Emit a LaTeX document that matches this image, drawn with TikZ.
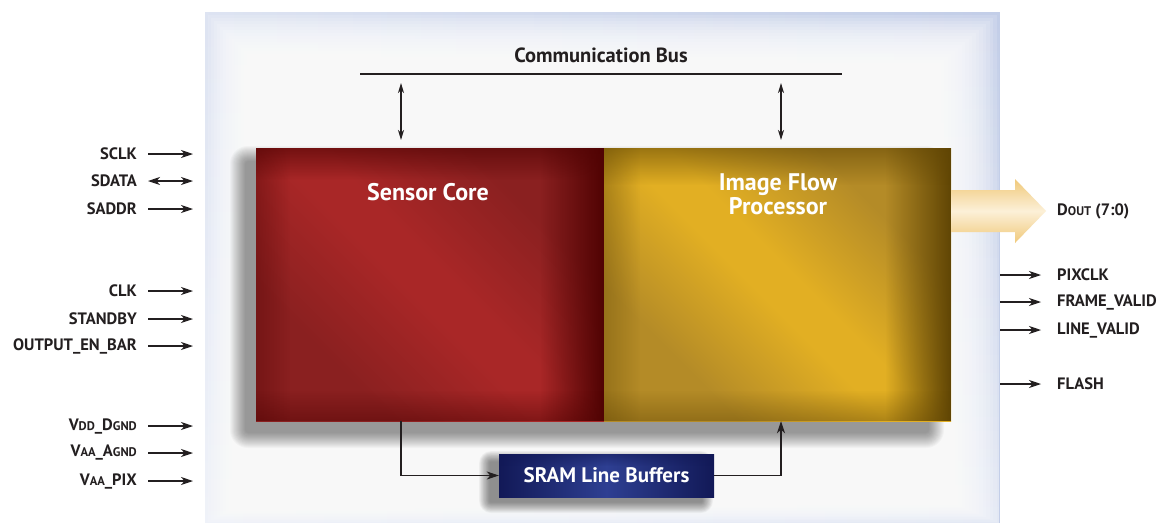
\documentclass[tikz,border=0pt]{standalone}
\usepackage{fontspec}
\setmainfont{PT Sans}
\usetikzlibrary{arrows.meta,fadings}
\definecolor{txt}{HTML}{231F20}
\definecolor{panelblue}{HTML}{C3CEE8}
\definecolor{redbase}{HTML}{8A2020}
\definecolor{redhi}{HTML}{A92727}
\definecolor{reddark}{HTML}{500303}
\definecolor{goldbase}{HTML}{B48B27}
\definecolor{goldhi}{HTML}{E2AF23}
\definecolor{golddark}{HTML}{604504}
\definecolor{sramc}{HTML}{2E3F92}
\definecolor{sramd}{HTML}{121957}
\definecolor{doutc}{HTML}{F0C97A}
\definecolor{doutl}{HTML}{FCF0D8}
\pgfdeclarehorizontalshading{redband}{100bp}{color(0bp)=(redbase); color(30bp)=(redbase); color(47bp)=(redhi); color(53bp)=(redhi); color(70bp)=(redbase); color(100bp)=(redbase)}
\pgfdeclarehorizontalshading{goldband}{100bp}{color(0bp)=(goldbase); color(30bp)=(goldbase); color(47bp)=(goldhi); color(53bp)=(goldhi); color(70bp)=(goldbase); color(100bp)=(goldbase)}
\tikzfading[name=fadetoright, left color=transparent!100, right color=transparent!0]
\tikzfading[name=fadetoleft, left color=transparent!0, right color=transparent!100]
\tikzfading[name=fadetotop, bottom color=transparent!100, top color=transparent!0]
\tikzfading[name=fadetobottom, top color=transparent!100, bottom color=transparent!0]
\newcommand\smc[1]{{\fontsize{12.5}{13}\selectfont #1}}
\tikzset{
  sig/.style={font=\fontsize{16.5}{18}\selectfont\bfseries, text=txt, inner sep=0pt},
  tipA/.tip={Stealth[length=12pt,width=8pt,inset=3.5pt]},
  tipB/.tip={Stealth[length=10pt,width=6pt,inset=3pt]},
  arr/.style={draw=txt, line width=1.1pt, -tipA},
  darr/.style={draw=txt, line width=1.1pt, tipA-tipA},
  busarr/.style={draw=txt, line width=1.1pt, tipB-tipB},
  blocktxt/.style={font=\fontsize{24}{24}\selectfont\bfseries, text=white, align=center, inner sep=0pt},
  blk/.style={draw=none, inner sep=0pt, minimum width=#1},
}
\begin{document}
\begin{tikzpicture}[x=1pt,y=-1pt]
\useasboundingbox (0,0) rectangle (1158,523);
\fill[white] (0,0) rectangle (1158,523);
% panel
\fill[panelblue] (205,12) rectangle (1000,523);
\fill[white, opacity=0.45, path fading=fadetoleft] (205,12) rectangle (1000,523);
\fill[white, opacity=0.55, path fading=fadetobottom] (205,12) rectangle (1000,523);
\foreach \i in {1,...,22} {
  \fill[white, opacity=0.14] (205+3*\i,12+3*\i) rectangle (1000-3.5*\i,523-1.5*\i);
}
% shadows
\foreach \i in {0,...,15} {
  \fill[black, opacity=0.028, rounded corners=18-\i]
    (246-16+\i,162-16+\i) rectangle (928+16-\i,432+16-\i);
  \fill[black, opacity=0.03, rounded corners=12-0.7*\i]
    (490-11+0.7*\i,462-11+0.7*\i) rectangle (702+11-0.7*\i,502+11-0.7*\i);
}
% sensor core
\shade[shading=redband, shading angle=45] (256,148) rectangle (604,421);
\fill[reddark, path fading=fadetoright] (540,148) rectangle (604,421);
\fill[reddark, path fading=fadetotop, opacity=0.6] (256,148) rectangle (604,180);
\fill[reddark, path fading=fadetoleft, opacity=0.35] (256,148) rectangle (290,421);
\fill[reddark, path fading=fadetobottom, opacity=0.45] (256,390) rectangle (604,421);
% image flow processor
\shade[shading=goldband, shading angle=45] (604,148) rectangle (951,421);
\fill[golddark, path fading=fadetoright] (885,148) rectangle (951,421);
\fill[golddark, path fading=fadetotop, opacity=0.55] (604,148) rectangle (951,185);
\fill[golddark, path fading=fadetoleft, opacity=0.35] (604,148) rectangle (640,421);
\fill[golddark, path fading=fadetobottom, opacity=0.4] (604,390) rectangle (951,421);
\node[blk=348pt, minimum height=273pt] (sc) at (430,284.5) {};
\node[blk=347pt, minimum height=273pt] (ifp) at (777.5,284.5) {};
\node[blocktxt] (sctxt) at (428,192) {Sensor Core};
\node[blocktxt] (ifptxt) at (778,194) {Image Flow\\Processor};
% SRAM
\shade[left color=sramd, right color=sramd, middle color=sramc] (499,454) rectangle (714,497);
\fill[sramd, path fading=fadetotop, opacity=0.5] (499,454) rectangle (714,466);
\node[blk=215pt, minimum height=43pt, font=\fontsize{21}{22}\selectfont\bfseries, text=white] (sram) at (606.5,475.5) {SRAM Line Buffers};
\draw[arr] (sc.south -| 401,0) |- (sram.west);
\draw[arr] (sram.east) -| (ifp.south -| 781,0);
% communication bus
\node[font=\fontsize{20.5}{22}\selectfont\bfseries, text=txt, inner sep=0pt] (bus) at (601,55) {Communication Bus};
\coordinate (busL) at (360,74);
\coordinate (busR) at (842,74);
\draw[txt, line width=1.2pt] (busL) -- (busR);
\coordinate (b1t) at (401,83);
\coordinate (b1b) at (401,140);
\coordinate (b2t) at (781,83);
\coordinate (b2b) at (781,140);
\draw[busarr] (b1t) -- (b1b);
\draw[busarr] (b2t) -- (b2b);
% Dout arrow
\shade[top color=doutc, bottom color=doutc, middle color=doutl]
  (951,190) -- (1015,190) -- (1015,179) -- (1046,211) -- (1015,243) -- (1015,232) -- (951,232) -- cycle;
\node[sig, anchor=west] (dout) at (1057,211) {D\smc{OUT} (7:0)};
% left inputs
\foreach \nm/\lab/\y in {sclk/SCLK/154, saddr/SADDR/209, clk/CLK/291, stby/STANDBY/319, oen/OUTPUT\_EN\_BAR/346,
  vdd/V\smc{DD}\_D\smc{GND}/426, vaa/V\smc{AA}\_A\smc{GND}/453, vpix/V\smc{AA}\_PIX/481} {
  \node[sig, anchor=east] (\nm) at (137,\y) {\lab};
  \coordinate (\nm e) at (193,\y);
  \coordinate (\nm s) at (148,\y);
  \draw[arr] (\nm s) -- (\nm e);
}
\node[sig, anchor=east] (sdata) at (137,181) {SDATA};
\coordinate (sdatae) at (193,181);
\coordinate (sdatas) at (148,181);
\draw[darr] (sdatas) -- (sdatae);
% right outputs
\foreach \nm/\lab/\y in {pix/PIXCLK/275, fv/FRAME\_VALID/302, lv/LINE\_VALID/330, fl/FLASH/384} {
  \node[sig, anchor=west] (\nm) at (1057,\y) {\lab};
  \coordinate (\nm s) at (1000,\y);
  \coordinate (\nm e) at (1041,\y);
  \draw[arr] (\nm s) -- (\nm e);
}
\end{tikzpicture}
\end{document}
